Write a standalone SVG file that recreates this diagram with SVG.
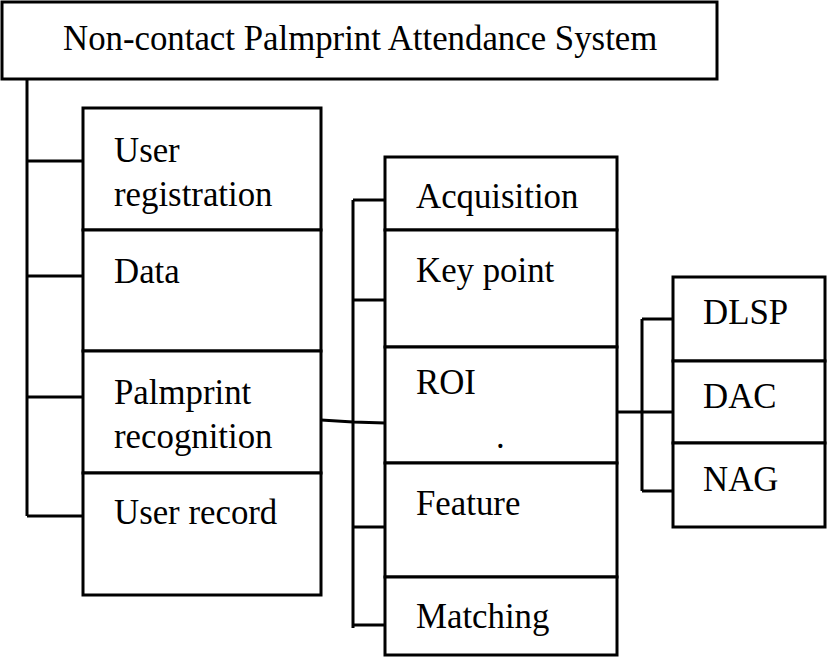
<svg xmlns="http://www.w3.org/2000/svg" width="827" height="657" viewBox="0 0 827 657">
<style>
.b{fill:#fff;stroke:#000;stroke-width:3}
.c{fill:none;stroke:#000;stroke-width:3}
text{font-family:"Liberation Serif","Times New Roman",serif;font-size:34.8px;fill:#000}
</style>
<rect width="827" height="657" fill="#fff"/>
<g id="connectors" class="c">
<path d="M27,79 V516 M27,161 H83 M27,276 H83 M27,397 H83 M27,516 H83"/>
<path d="M321,420 L353,422 L385,423"/>
<path d="M353,200 V628 M353,200 H385 M353,300 H385 M353,527 H385 M353,625 H385"/>
<path d="M617,412 H673 M642,319 V491 M642,319 H673 M642,491 H673"/>
</g>
<g id="title"><rect class="b" x="2" y="2" width="715" height="77"/><text x="63" y="50">Non-contact Palmprint Attendance System</text></g>
<g id="user-registration"><rect class="b" x="83" y="108" width="238" height="122"/><text x="114" y="162">User</text><text x="114" y="206">registration</text></g>
<g id="data"><rect class="b" x="83" y="230" width="238" height="121"/><text x="114" y="283">Data</text></g>
<g id="palmprint-recognition"><rect class="b" x="83" y="351" width="238" height="122"/><text x="114" y="404">Palmprint</text><text x="114" y="448">recognition</text></g>
<g id="user-record"><rect class="b" x="83" y="473" width="238" height="122"/><text x="114" y="524">User record</text></g>
<g id="acquisition"><rect class="b" x="385" y="157" width="232" height="73"/><text x="416" y="208">Acquisition</text></g>
<g id="key-point"><rect class="b" x="385" y="230" width="232" height="117"/><text x="416" y="282">Key point</text></g>
<g id="roi"><rect class="b" x="385" y="347" width="232" height="116"/><text x="416" y="394">ROI</text><text x="496" y="448">.</text></g>
<g id="feature"><rect class="b" x="385" y="463" width="232" height="114"/><text x="416" y="515">Feature</text></g>
<g id="matching"><rect class="b" x="385" y="577" width="232" height="78"/><text x="416" y="628">Matching</text></g>
<g id="dlsp"><rect class="b" x="673" y="277" width="152" height="84"/><text x="703" y="324">DLSP</text></g>
<g id="dac"><rect class="b" x="673" y="361" width="152" height="82"/><text x="703" y="408">DAC</text></g>
<g id="nag"><rect class="b" x="673" y="443" width="152" height="84"/><text x="703" y="491">NAG</text></g>
</svg>
